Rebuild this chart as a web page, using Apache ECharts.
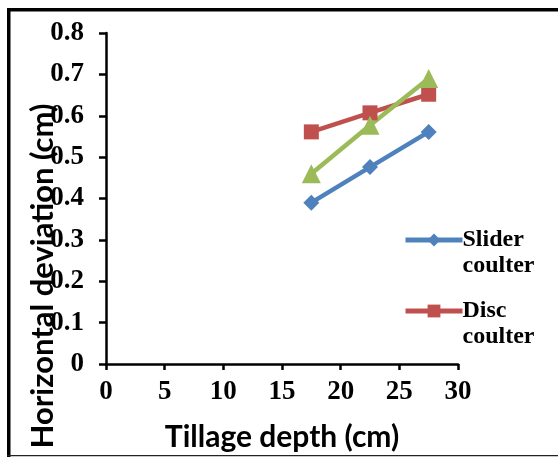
<!DOCTYPE html>
<html><head><meta charset="utf-8">
<script src="https://cdn.jsdelivr.net/npm/echarts@6/dist/echarts.min.js"></script>
<style>html,body{margin:0;padding:0;background:#fff}#c{width:558px;height:457px}</style>
</head><body><div id="c"></div>
<script>
const xValues = [17.5, 22.5, 27.5];
const sliderCoulter = [0.39, 0.476, 0.561];
const discCoulter = [0.561, 0.607, 0.652];
const thirdSeries = [0.46, 0.577, 0.69];
const xTicks = [0, 5, 10, 15, 20, 25, 30];
const yTicks = [0, 0.1, 0.2, 0.3, 0.4, 0.5, 0.6, 0.7, 0.8];
const seriesNames = ['Slider\ncoulter', 'Disc\ncoulter', 'Third'];

const pairs = v => xValues.map((x, i) => [x, v[i]]);
const chart = echarts.init(document.getElementById('c'), null, {renderer: 'canvas'});
const serif = '"Liberation Serif", "Times New Roman", serif';
const sans = 'Lato, "Open Sans", sans-serif';
const legendText = {color: '#000', fontFamily: serif, fontWeight: 'bold', fontSize: 24, lineHeight: 26, padding: [0, 0, 0, -5]};
const legendBase = {orient: 'vertical', left: 398, itemWidth: 57, itemHeight: 16, lineStyle: {width: 5}, textStyle: legendText,
  formatter: name => '\u00a0\n' + name};
chart.setOption({
  animation: false,
  grid: {left: 106, top: 33, right: 100, bottom: 93, containLabel: false},
  xAxis: {
    type: 'value', min: 0, max: 30, interval: 5,
    axisLine: {show: true, lineStyle: {color: '#000', width: 2.5}},
    axisTick: {show: true, length: 6, lineStyle: {color: '#000', width: 2.5}},
    splitLine: {show: false},
    axisLabel: {color: '#000', fontFamily: serif, fontWeight: 'bold', fontSize: 27, margin: 15,
      formatter: v => xTicks.includes(v) ? String(v) : ''},
    name: 'Tillage depth (cm)', nameLocation: 'middle', nameGap: 58, nameMoveOverlap: false,
    nameTextStyle: {color: '#000', fontFamily: sans, fontWeight: 'bold', fontSize: 30}
  },
  yAxis: {
    type: 'value', min: 0, max: 0.8, interval: 0.1,
    axisLine: {show: true, onZero: false, lineStyle: {color: '#000', width: 2.5}},
    axisTick: {show: true, length: 7, lineStyle: {color: '#000', width: 2.5}},
    splitLine: {show: false},
    axisLabel: {color: '#000', fontFamily: serif, fontWeight: 'bold', fontSize: 27, margin: 22,
      formatter: v => { const t = yTicks.find(y => Math.abs(y - v) < 1e-6); return t === undefined ? '' : (t === 0 ? '0' : t.toFixed(1)); }},
    name: 'Horizontal deviation (cm)', nameLocation: 'middle', nameGap: 48, nameMoveOverlap: false,
    nameTextStyle: {color: '#000', fontFamily: sans, fontWeight: 'bold', fontSize: 31, padding: [0, 0, 0, -155]}
  },
  legend: [
    Object.assign({}, legendBase, {top: 196, data: [seriesNames[0]]}),
    Object.assign({}, legendBase, {top: 267, data: [seriesNames[1]]})
  ],
  series: [
    {name: seriesNames[0], type: 'line', data: pairs(sliderCoulter), symbol: 'diamond', symbolSize: 16,
      color: '#4F81BD', lineStyle: {width: 4.5, color: '#4F81BD'}, itemStyle: {color: '#4F81BD'}},
    {name: seriesNames[1], type: 'line', data: pairs(discCoulter), symbol: 'rect', symbolSize: 15,
      color: '#C0504D', lineStyle: {width: 4.5, color: '#C0504D'}, itemStyle: {color: '#C0504D'}},
    {name: seriesNames[2], type: 'line', data: pairs(thirdSeries), symbol: 'triangle', symbolSize: 19,
      color: '#9BBB59', lineStyle: {width: 4.5, color: '#9BBB59'}, itemStyle: {color: '#9BBB59'}}
  ],
  graphic: [
    {type: 'rect', shape: {x: 7, y: 8, width: 551, height: 3.5}, style: {fill: '#000'}},
    {type: 'rect', shape: {x: 7, y: 8, width: 3.5, height: 449}, style: {fill: '#000'}},
    {type: 'rect', shape: {x: 7, y: 455, width: 551, height: 1.2}, style: {fill: '#222'}}
  ]
});
</script></body></html>
